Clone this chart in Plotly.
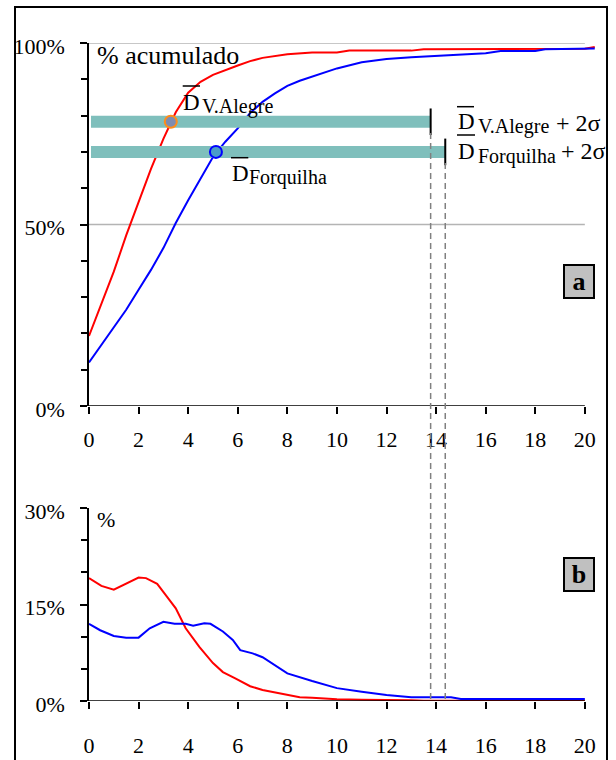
import plotly.graph_objects as go

# ---------------- data ----------------
cum_red_x = [0, 0.5, 1, 1.5, 2, 2.5, 3, 3.5, 4, 4.5, 5, 5.5, 6, 6.5, 7, 8, 9, 10, 10.5, 11, 12, 13, 13.5, 14, 15, 16, 17, 18, 19, 20, 20.4]
cum_red_y = [19.3, 28, 37, 47, 56.4, 65.3, 73.6, 80.9, 86.3, 89.3, 91.2, 92.6, 93.8, 95, 95.9, 96.9, 97.4, 97.4, 97.9, 97.9, 97.9, 97.9, 98.3, 98.3, 98.3, 98.3, 98.3, 98.3, 98.3, 98.4, 98.9]

cum_blue_x = [0, 0.5, 1, 1.5, 2, 2.5, 3, 3.5, 4, 4.5, 5, 5.5, 6, 6.5, 7, 7.5, 8, 8.5, 9, 9.5, 10, 11, 12, 13, 14, 15, 16, 16.6, 17, 18, 18.4, 19, 20, 20.4]
cum_blue_y = [12, 16.8, 21.5, 26.5, 32, 37.5, 43.5, 50.4, 56.7, 62.6, 68.6, 72.8, 76.5, 80.7, 83.8, 86.1, 88.2, 89.6, 90.7, 92, 93, 94.7, 95.6, 96.1, 96.5, 96.8, 97.2, 97.8, 97.8, 97.8, 98.3, 98.3, 98.3, 98.5]

freq_red_x = [0, 0.5, 1, 1.5, 2, 2.3, 2.75, 3.15, 3.5, 3.9, 4.45, 5, 5.4, 5.9, 6.5, 7, 7.5, 8, 8.5, 9, 10, 11, 12, 13, 13.5, 14, 15, 16, 17, 18, 19, 20]
freq_red_y = [19.1, 17.9, 17.3, 18.3, 19.2, 19.1, 18.2, 16.2, 14.4, 11.3, 8.4, 5.9, 4.5, 3.5, 2.3, 1.7, 1.3, 0.93, 0.57, 0.5, 0.26, 0.2, 0.2, 0.1, 0.05, 0.05, 0.05, 0.05, 0.05, 0.05, 0.05, 0.05]

freq_blue_x = [0, 0.45, 1, 1.5, 2, 2.45, 3, 3.45, 3.9, 4.2, 4.65, 4.9, 5.4, 5.8, 6.1, 6.6, 7, 7.5, 8, 9, 10, 11, 12, 13, 14.6, 15, 16, 17, 18, 19, 20]
freq_blue_y = [12, 11, 10.1, 9.85, 9.85, 11.3, 12.3, 12, 12, 11.7, 12.1, 12, 10.8, 9.5, 7.9, 7.4, 6.8, 5.5, 4.3, 3.1, 2, 1.45, 0.93, 0.57, 0.57, 0.3, 0.3, 0.3, 0.3, 0.3, 0.3]

sites = ["V.Alegre", "Forquilha"]
mean_d = [3.3, 5.12]          # mean diameter
mean_cum = [78.3, 70.0]       # cumulative % at the mean
mean_2s = [13.78, 14.37]      # mean + 2 sigma
bar_start = 0.08

x_ticks = list(range(0, 21, 2))

FONT = "Liberation Serif"
W, H = 616, 760
L, R = 89, 20
PW = W - L - R


def px(xp):
    return (xp - L) / PW


def py(yp):
    return 1 - yp / H


fig = go.Figure()

# cumulative curves
fig.add_trace(go.Scatter(x=cum_red_x, y=cum_red_y, mode="lines", line=dict(color="#FF0000", width=2), xaxis="x", yaxis="y"))
fig.add_trace(go.Scatter(x=cum_blue_x, y=cum_blue_y, mode="lines", line=dict(color="#0000FF", width=2), xaxis="x", yaxis="y"))

# teal bars from 0 to mean+2sigma
for i in range(2):
    fig.add_trace(go.Scatter(x=[bar_start, mean_2s[i]], y=[mean_cum[i], mean_cum[i]], mode="lines",
                             line=dict(color="#7FBFBC", width=12), xaxis="x", yaxis="y"))
    fig.add_trace(go.Scatter(x=[mean_2s[i]], y=[mean_cum[i]], mode="markers",
                             marker=dict(symbol="line-ns", size=19, line=dict(color="black", width=2)),
                             xaxis="x", yaxis="y", cliponaxis=False))

# mean points
fig.add_trace(go.Scatter(x=[mean_d[0]], y=[mean_cum[0]], mode="markers",
                         marker=dict(size=12, color="#7F8CB0", line=dict(color="#FF8C1A", width=2)), xaxis="x", yaxis="y"))
fig.add_trace(go.Scatter(x=[mean_d[1]], y=[mean_cum[1]], mode="markers",
                         marker=dict(size=12, color="#4A9CC8", line=dict(color="#0000FF", width=2)), xaxis="x", yaxis="y"))

# frequency curves
fig.add_trace(go.Scatter(x=freq_red_x, y=freq_red_y, mode="lines", line=dict(color="#FF0000", width=2), xaxis="x2", yaxis="y2"))
fig.add_trace(go.Scatter(x=freq_blue_x, y=freq_blue_y, mode="lines", line=dict(color="#0000FF", width=2), xaxis="x2", yaxis="y2"))

shapes = []
# gridlines top chart
for g in [50, 100]:
    shapes.append(dict(type="line", xref="x", yref="y", x0=0, x1=20, y0=g, y1=g, line=dict(color="#B4B4B4", width=1.5), layer="below"))
# x axis lines
shapes.append(dict(type="line", xref="x", yref="y", x0=0, x1=20, y0=0, y1=0, line=dict(color="black", width=1.5)))
shapes.append(dict(type="line", xref="x2", yref="y2", x0=0, x1=20, y0=0, y1=0, line=dict(color="black", width=1.5)))
# dashed vertical lines
for i, ytop in enumerate([129, 160]):
    shapes.append(dict(type="line", xref="x", yref="paper", x0=mean_2s[i], x1=mean_2s[i], y0=py(699), y1=py(ytop),
                       line=dict(color="#808080", width=1.5, dash="6px,4px")))
# overlines
for (x0, x1, yy) in [(182.7, 200, 86), (231, 248.3, 157.7), (457, 474, 106.7), (457, 475, 135)]:
    shapes.append(dict(type="line", xref="paper", yref="paper", x0=px(x0), x1=px(x1), y0=py(yy), y1=py(yy),
                       line=dict(color="black", width=1.5)))
# outer frame
shapes.append(dict(type="rect", xref="paper", yref="paper", x0=px(15), x1=px(607), y0=py(770), y1=py(7),
                   line=dict(color="black", width=2)))

annotations = []


def ann(text, xl, base, size, **kw):
    annotations.append(dict(text=text, xref="paper", yref="paper", x=px(xl), y=py(base - 0.35 * size),
                            xanchor="left", yanchor="middle", showarrow=False,
                            font=dict(family=FONT, size=size, color="black"), **kw))


ann("% acumulado", 95, 64.3, 26)
ann("%", 95, 527, 22)
# left labels
ann("D", 181, 110.7, 23)
ann(sites[0], 200, 113.5, 20)
ann("D", 229.5, 181.7, 23)
ann(sites[1], 247, 185, 20)
# right labels
ann("D", 455.5, 130, 23)
ann(sites[0], 475.5, 133.5, 20)
ann("+ 2σ", 554, 131, 24)
ann("D", 455.5, 159.5, 23)
ann(sites[1], 475.5, 163.5, 20)
ann("+ 2σ", 559, 159, 24)

# panel letters
for letter, cy in [("a", 282), ("b", 574)]:
    annotations.append(dict(text="<b>%s</b>" % letter, xref="paper", yref="paper", x=px(578.5), y=py(cy),
                            xanchor="center", yanchor="middle", showarrow=False,
                            font=dict(family=FONT, size=26, color="black"),
                            bgcolor="#C0C0C0", bordercolor="black", borderwidth=2, borderpad=0,
                            width=28, height=31))

axis_common = dict(showgrid=False, zeroline=False, ticks="outside", ticklen=7, tickwidth=1.5, tickcolor="black",
                   automargin=False, tickfont=dict(family=FONT, size=22, color="black"))

fig.update_layout(
    width=W, height=H, autosize=False,
    margin=dict(l=L, r=R, t=0, b=0, pad=0),
    paper_bgcolor="white", plot_bgcolor="white",
    showlegend=False,
    font=dict(family=FONT),
    xaxis=dict(domain=[0, 1], range=[0, 20.45], anchor="y", tickvals=x_ticks, showline=False,
               ticklabelstandoff=7, **axis_common),
    yaxis=dict(domain=[py(406), py(43)], range=[0, 100], anchor="x", tickvals=[0, 50, 100],
               ticktext=["0%", "50%", "100%"], showline=True, linecolor="black", linewidth=1.5,
               ticklabelstandoff=11, ticklabelshift=3,
               minor=dict(tickvals=[10, 20, 30, 40, 60, 70, 80, 90], ticks="outside", ticklen=6,
                          tickcolor="black", tickwidth=1.5),
               **axis_common),
    xaxis2=dict(domain=[0, 1], range=[0, 20.45], anchor="y2", tickvals=x_ticks, showline=False,
                ticklabelstandoff=18, **axis_common),
    yaxis2=dict(domain=[py(701), py(508)], range=[0, 30], anchor="x2", tickvals=[0, 15, 30],
                ticktext=["0%", "15%", "30%"], showline=True, linecolor="black", linewidth=1.5,
                ticklabelstandoff=11, ticklabelshift=3,
                minor=dict(tickvals=[5, 10, 20, 25], ticks="outside", ticklen=6,
                           tickcolor="black", tickwidth=1.5),
                **axis_common),
    shapes=shapes,
    annotations=annotations,
)

fig.write_html("out.html", config={"responsive": False, "displayModeBar": False},
               post_script="document.body.style.margin='0';document.body.style.overflow='hidden';")
